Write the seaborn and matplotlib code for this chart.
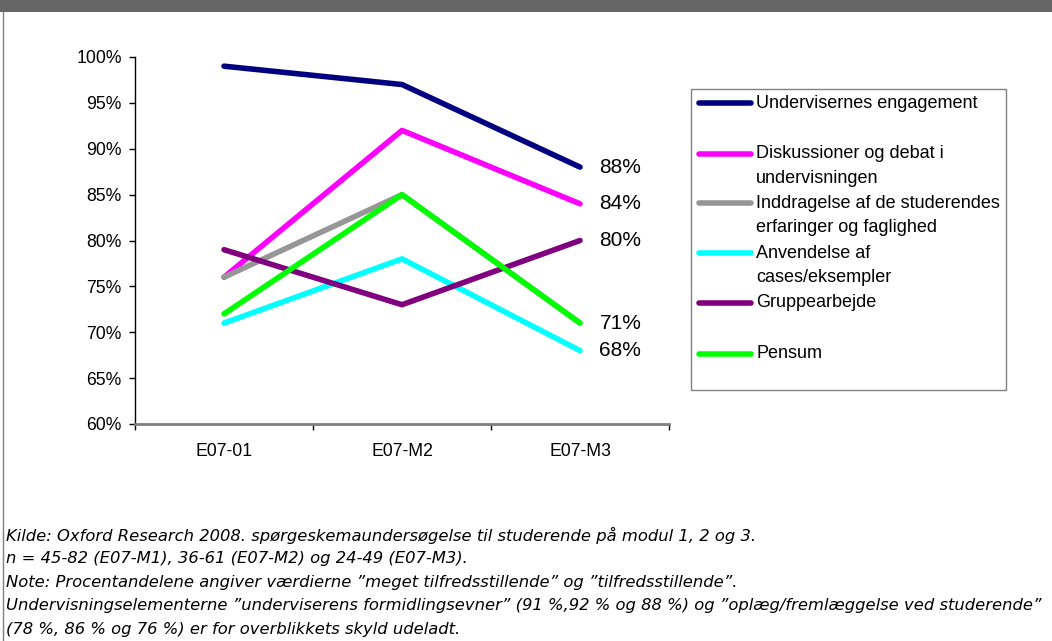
import pandas as pd
import seaborn as sns
import matplotlib.pyplot as plt
from matplotlib.patches import Rectangle
from matplotlib.lines import Line2D

# data
periods = ["E07-01", "E07-M2", "E07-M3"]
engagement = [99, 97, 88]
diskussion = [76, 92, 84]
inddragelse = [76, 85, 71]
anvendelse = [71, 78, 68]
gruppe = [79, 73, 80]
pensum = [72, 85, 71]

series_names = [
    "Undervisernes engagement",
    "Diskussioner og debat i\nundervisningen",
    "Inddragelse af de studerendes\nerfaringer og faglighed",
    "Anvendelse af\ncases/eksempler",
    "Gruppearbejde",
    "Pensum",
]
series_values = [engagement, diskussion, inddragelse, anvendelse, gruppe, pensum]
colors = ["#000080", "#FF00FF", "#969696", "#00FFFF", "#800080", "#00FF00"]
show_end_label = [True, True, False, True, True, True]

notes = [
    "Kilde: Oxford Research 2008. spørgeskemaundersøgelse til studerende på modul 1, 2 og 3.",
    "n = 45-82 (E07-M1), 36-61 (E07-M2) og 24-49 (E07-M3).",
    "Note: Procentandelene angiver værdierne \u201dmeget tilfredsstillende\u201d og \u201dtilfredsstillende\u201d.",
    "Undervisningselementerne \u201dunderviserens formidlingsevner\u201d (91 %,92 % og 88 %) og \u201doplæg/fremlæggelse ved studerende\u201d",
    "(78 %, 86 % og 76 %) er for overblikkets skyld udeladt.",
]

rows = []
for name, vals in zip(series_names, series_values):
    for i, v in enumerate(vals):
        rows.append({"serie": name, "x": i, "pct": v})
df = pd.DataFrame(rows)

sns.set_style("white")
plt.rcParams["font.family"] = ["Liberation Sans", "DejaVu Sans"]
plt.rcParams["text.color"] = "black"
plt.rcParams["xtick.color"] = "black"
plt.rcParams["ytick.color"] = "black"

W, H = 1052, 641
fig = plt.figure(figsize=(W / 100, H / 100), dpi=100)


def fx(x):
    return x / W


def fy(y):
    return 1 - y / H


ax = fig.add_axes([fx(135), fy(424), fx(669) - fx(135), fy(57) - fy(424)])

sns.lineplot(
    data=df, x="x", y="pct", hue="serie", palette=dict(zip(series_names, colors)),
    hue_order=series_names, linewidth=4.0, ax=ax, legend=False, sort=False,
)
for line in ax.lines:
    line.set_solid_capstyle("round")
    line.set_solid_joinstyle("round")

# end labels at E07-M3
for vals, show in zip(series_values, show_end_label):
    if show:
        ax.annotate(f"{vals[-1]}%", (2, vals[-1]), xytext=(14, 0),
                    textcoords="offset points", va="center", ha="left",
                    fontsize=15, annotation_clip=False)

ax.set_xlim(-0.5, 2.5)
ax.set_ylim(60, 100)
ax.set_yticks(range(60, 101, 5))
ax.set_yticklabels([f"{t}%" for t in range(60, 101, 5)], fontsize=12.7)
ax.set_xticks(range(len(periods)))
ax.set_xticklabels(periods, fontsize=12.7)
ax.set_xticks([-0.5, 0.5, 1.5, 2.5], minor=True)
ax.tick_params(axis="x", which="major", length=0, pad=14)
ax.tick_params(axis="x", which="minor", length=4.5, width=1, color="#000000", direction="out", bottom=True)
ax.tick_params(axis="y", length=4.5, width=1, color="#000000", direction="out", left=True, pad=5)
ax.set_xlabel("")
ax.set_ylabel("")
for s in ["top", "right"]:
    ax.spines[s].set_visible(False)
ax.spines["left"].set_color("#000000")
ax.spines["left"].set_linewidth(1)
ax.spines["bottom"].set_color("#808080")
ax.spines["bottom"].set_linewidth(2)
ax.grid(False)

# legend box drawn like the original
fig.patches.append(Rectangle((fx(691), fy(390)), fx(1006) - fx(691), fy(89) - fy(390),
                             transform=fig.transFigure, facecolor="white",
                             edgecolor="#808080", linewidth=1))
entry_y = [103, 154, 203, 253, 303, 354]
for name, col, y in zip(series_names, colors, entry_y):
    fig.add_artist(Line2D([fx(699), fx(751)], [fy(y), fy(y)], color=col, linewidth=4.0,
                          solid_capstyle="round", transform=fig.transFigure))
    for k, part in enumerate(name.split("\n")):
        fig.text(fx(756), fy(y + 24.5 * k), part, fontsize=13, va="center", ha="left")

# frame: top bar and left border
fig.patches.append(Rectangle((0, fy(12)), 1, 12 / H, transform=fig.transFigure,
                             facecolor="#666666", edgecolor="none"))
fig.add_artist(Line2D([fx(3), fx(3)], [0, fy(12)], color="#7f7f7f", linewidth=1,
                      transform=fig.transFigure))

# source notes
for k, line in enumerate(notes):
    fig.text(fx(6), fy(535 + 23.6 * k), line, fontsize=11.8, style="italic",
             family=["DejaVu Sans"], va="center", ha="left")

fig.savefig("out.png", dpi=100)
